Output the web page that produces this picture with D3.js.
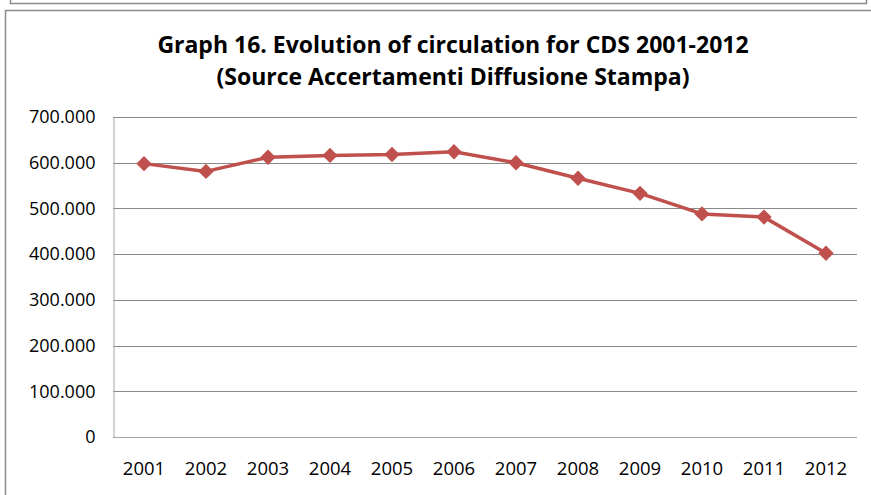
<!DOCTYPE html>
<html>
<head>
<meta charset="utf-8">
<title>Graph 16</title>
<script src="https://d3js.org/d3.v7.min.js"></script>
<style>
  body { margin: 0; background: #fff; overflow: hidden; }
  svg { display: block; }
</style>
</head>
<body>
<script>
// data
var years = ["2001","2002","2003","2004","2005","2006","2007","2008","2009","2010","2011","2012"];
var circulation = [598000, 581000, 612000, 616000, 618000, 624000, 600000, 566000, 533000, 488000, 481000, 402000];
var yTicks = [0, 100000, 200000, 300000, 400000, 500000, 600000, 700000];
var titleLines = ["Graph 16. Evolution of circulation for CDS 2001-2012", "(Source Accertamenti Diffusione Stampa)"];

var w = 871, h = 495;
var margin = {top: 117, right: 14, bottom: 58, left: 113};

var svg = d3.select("body").append("svg")
    .attr("width", w)
    .attr("height", h);

// frame of the previous box and of this one
svg.append("path")
    .attr("d", "M10.5,0 V3.5 H866.5 V0")
    .attr("fill", "none").attr("stroke", "#8c8c8c").attr("stroke-width", 1.5);
svg.append("path")
    .attr("d", "M5.5,495 V10.5 H871")
    .attr("fill", "none").attr("stroke", "#8c8c8c").attr("stroke-width", 1.5);

svg.selectAll("text.title").data(titleLines).enter()
    .append("text").attr("class", "title")
    .attr("x", 453)
    .attr("y", function(d, i){ return 53 + i * 32; })
    .attr("text-anchor", "middle")
    .attr("font-family", "'Open Sans', sans-serif")
    .attr("font-weight", "bold")
    .attr("font-size", "23px")
    .attr("fill", "#000")
    .text(function(d){ return d; });

var x = d3.scaleBand().domain(years).range([margin.left, w - margin.right]);
var y = d3.scaleLinear().domain([0, 700000]).range([h - margin.bottom, margin.top]);

var fmt = function(v){ return v === 0 ? "0" : d3.format(",")(v).replace(/,/g, "."); };

// grid
svg.append("g").selectAll("line").data(yTicks).enter()
    .append("line")
    .attr("x1", margin.left).attr("x2", w - margin.right)
    .attr("y1", function(d){ return Math.round(y(d)) + 0.5; })
    .attr("y2", function(d){ return Math.round(y(d)) + 0.5; })
    .attr("stroke", function(d){ return d === 0 ? "#a6a6a6" : "#8a8a8a"; })
    .attr("stroke-width", 1);

// y axis
var yAxis = svg.append("g")
    .attr("transform", "translate(" + (margin.left + 0.5) + ",0)")
    .call(d3.axisLeft(y).tickValues(yTicks).tickFormat(fmt).tickSize(0).tickPadding(18));
yAxis.select(".domain").attr("stroke", "#a6a6a6");
yAxis.selectAll("text")
    .attr("font-family", "'Open Sans', sans-serif")
    .attr("font-size", "18px")
    .attr("fill", "#000");

// x axis
var xAxis = svg.append("g")
    .attr("transform", "translate(0," + (Math.round(y(0)) + 0.5) + ")")
    .call(d3.axisBottom(x).tickSize(0).tickPadding(24));
xAxis.select(".domain").remove();
xAxis.selectAll("text")
    .attr("font-family", "'Open Sans', sans-serif")
    .attr("font-size", "18.5px")
    .attr("fill", "#000");

var cx = function(d, i){ return x(years[i]) + x.bandwidth() / 2; };

var line = d3.line()
    .x(cx)
    .y(function(d){ return y(d); });

svg.append("path")
    .datum(circulation)
    .attr("d", line)
    .attr("fill", "none")
    .attr("stroke", "#c0504d")
    .attr("stroke-width", 3.5)
    .attr("stroke-linejoin", "round");

svg.append("g").selectAll("path").data(circulation).enter()
    .append("path")
    .attr("d", d3.symbol().type(d3.symbolDiamond2).size(150))
    .attr("transform", function(d, i){ return "translate(" + cx(d, i) + "," + y(d) + ")"; })
    .attr("fill", "#c0504d");
</script>
</body>
</html>
